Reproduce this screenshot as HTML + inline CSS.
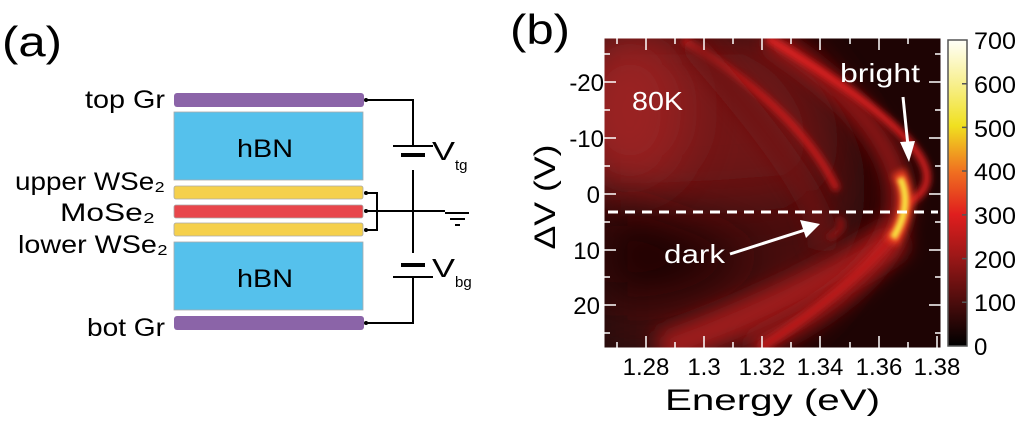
<!DOCTYPE html>
<html><head><meta charset="utf-8"><style>
html,body{margin:0;padding:0;background:#fff;}
body{width:1017px;height:419px;overflow:hidden;font-family:"Liberation Sans",Arial,sans-serif;}
</style></head><body>
<svg width="1017" height="419" viewBox="0 0 1017 419" xmlns="http://www.w3.org/2000/svg" font-family="Liberation Sans, Arial, sans-serif">
<defs>
<filter id="b10" filterUnits="userSpaceOnUse" x="500" y="0" width="517" height="419"><feGaussianBlur stdDeviation="10"/></filter>
<filter id="b4" filterUnits="userSpaceOnUse" x="500" y="0" width="517" height="419"><feGaussianBlur stdDeviation="3.5"/></filter>
<filter id="b2" filterUnits="userSpaceOnUse" x="500" y="0" width="517" height="419"><feGaussianBlur stdDeviation="2"/></filter>
<filter id="b25" filterUnits="userSpaceOnUse" x="500" y="0" width="517" height="419"><feGaussianBlur stdDeviation="25"/></filter>
<clipPath id="pc"><rect x="604" y="38" width="337" height="310"/></clipPath>
<linearGradient id="cb" x1="0" y1="1" x2="0" y2="0">
<stop offset="0" stop-color="#000"/><stop offset="0.14" stop-color="#4a0c0c"/><stop offset="0.3" stop-color="#a01818"/><stop offset="0.43" stop-color="#e01e1e"/><stop offset="0.57" stop-color="#f07020"/><stop offset="0.72" stop-color="#f0e020"/><stop offset="0.86" stop-color="#f8f090"/><stop offset="1" stop-color="#fffff8"/>
</linearGradient>
</defs>
<!-- panel a -->
<text x="2" y="56" font-size="42" textLength="60" lengthAdjust="spacingAndGlyphs">(a)</text>
<g font-size="25">
<text x="85" y="108" textLength="80" lengthAdjust="spacingAndGlyphs">top Gr</text>
<text x="15" y="190" textLength="150" lengthAdjust="spacingAndGlyphs">upper WSe₂</text>
<text x="60" y="221" textLength="95" lengthAdjust="spacingAndGlyphs">MoSe₂</text>
<text x="18" y="253" textLength="150" lengthAdjust="spacingAndGlyphs">lower WSe₂</text>
<text x="87" y="336" textLength="78" lengthAdjust="spacingAndGlyphs">bot Gr</text>
</g>
<rect x="174" y="93" width="190" height="14" rx="3" fill="#8b64a8"/>
<rect x="174" y="112" width="189" height="68" fill="#55c1ec" stroke="#aaa" stroke-width="0.8"/>
<rect x="174" y="186" width="189" height="13" rx="2" fill="#f5d04c" stroke="#aaa" stroke-width="0.8"/>
<rect x="174" y="205" width="189" height="13" rx="2" fill="#e8464b" stroke="#aaa" stroke-width="0.8"/>
<rect x="174" y="223" width="189" height="13" rx="2" fill="#f5d04c" stroke="#aaa" stroke-width="0.8"/>
<rect x="174" y="242" width="189" height="68" fill="#55c1ec" stroke="#aaa" stroke-width="0.8"/>
<rect x="174" y="316" width="190" height="14" rx="3" fill="#8b64a8"/>
<text x="237" y="157" font-size="25" textLength="56" lengthAdjust="spacingAndGlyphs">hBN</text>
<text x="237" y="287" font-size="25" textLength="56" lengthAdjust="spacingAndGlyphs">hBN</text>
<g stroke="#000" stroke-width="2" fill="none">
<path d="M366 100H413V146M413 170V253M413 277V323H366"/>
<path d="M366 193H377V230H366M366 211H445"/>
<path d="M393 146H433M445 213H469M450 219H465M455 225H460M393 277H433"/>
</g>
<rect x="401" y="153" width="24" height="4" fill="#000"/>
<rect x="401" y="263" width="24" height="4" fill="#000"/>
<g fill="#000"><circle cx="366" cy="100" r="2"/><circle cx="366" cy="193" r="2"/><circle cx="366" cy="211" r="2"/><circle cx="366" cy="230" r="2"/><circle cx="366" cy="323" r="2"/></g>
<text x="432" y="160" font-size="26" textLength="23" lengthAdjust="spacingAndGlyphs">V</text><text x="455" y="170" font-size="15">tg</text>
<text x="432" y="277" font-size="26" textLength="23" lengthAdjust="spacingAndGlyphs">V</text><text x="455" y="287" font-size="15">bg</text>
<!-- panel b -->
<text x="510" y="44" font-size="42" textLength="60" lengthAdjust="spacingAndGlyphs">(b)</text>
<g clip-path="url(#pc)">
<rect x="604" y="38" width="337" height="310" fill="#1e0404"/>
<path d="M604 38 H780 Q960 200 760 348 H604 Z" fill="#4a0d0d" filter="url(#b25)"/>
<path d="M604 38 H760 Q860 130 800 190 Q700 200 604 200 Z" fill="#701818" filter="url(#b25)"/>
<ellipse cx="630" cy="110" rx="60" ry="80" fill="#9a2222" filter="url(#b25)"/>
<path d="M604 200 Q700 240 760 250 Q700 300 604 300 Z" fill="#1e0404" filter="url(#b25)"/>
<path d="M900 235 Q800 300 660 350" stroke="#a01c1c" stroke-width="34" fill="none" filter="url(#b10)"/>
<path d="M767 38 Q1040 214 750 348" stroke="#b01a1a" stroke-width="18" fill="none" filter="url(#b10)"/>
<path d="M767 38 Q990 170 902 205" stroke="#e82222" stroke-width="7" fill="none" filter="url(#b4)"/>
<path d="M898 230 Q850 290 760 348" stroke="#c01c1c" stroke-width="8" fill="none" filter="url(#b4)"/>
<path d="M683 40 Q800 110 837 190" stroke="#d01e1e" stroke-width="7" fill="none" filter="url(#b4)"/>
<path d="M690 42 Q840 210 820 250" stroke="#701212" stroke-width="16" fill="none" filter="url(#b10)"/>
<path d="M898 172 Q916 205 891 242" stroke="#f04020" stroke-width="14" fill="none" filter="url(#b4)"/>
<path d="M900 178 Q913 205 893 238" stroke="#f8e040" stroke-width="7" fill="none" filter="url(#b2)"/>
<path d="M838 218 Q848 228 828 238" stroke="#8a1818" stroke-width="7" fill="none" filter="url(#b4)"/>
</g>
<rect x="604" y="38" width="337" height="310" fill="none" stroke="#fff" stroke-width="1"/>
<g stroke="#fff" stroke-width="1.5">
<path d="M604 82h12M604 138h12M604 194h12M604 250h12M604 305h12M941 82h-12M941 138h-12M941 194h-12M941 250h-12M941 305h-12"/>
<path d="M604 54h6M604 110h6M604 166h6M604 222h6M604 277h6M604 333h6M941 54h-6M941 110h-6M941 166h-6M941 222h-6M941 277h-6M941 333h-6"/>
<path d="M646 348v-12M704 348v-12M762 348v-12M820 348v-12M879 348v-12M937 348v-12M646 38v12M704 38v12M762 38v12M820 38v12M879 38v12"/>
<path d="M617 348v-6M675 348v-6M733 348v-6M791 348v-6M850 348v-6M908 348v-6M617 38v6M675 38v6M733 38v6M791 38v6M850 38v6M908 38v6"/>
</g>
<line x1="608" y1="212" x2="938" y2="212" stroke="#fff" stroke-width="3" stroke-dasharray="10,7"/>
<g font-size="26" fill="#fff">
<text x="632" y="110" textLength="51" lengthAdjust="spacingAndGlyphs">80K</text>
<text x="664" y="263" textLength="61" lengthAdjust="spacingAndGlyphs">dark</text>
<text x="840" y="82" textLength="80" lengthAdjust="spacingAndGlyphs">bright</text>
</g>
<g stroke="#fff" stroke-width="3"><line x1="730" y1="254" x2="805" y2="230"/><line x1="903" y1="97" x2="908" y2="146"/></g>
<polygon points="820,224 800,220 806,238" fill="#fff"/>
<polygon points="909,162 900,142 915,141" fill="#fff"/>
<g font-size="24" text-anchor="end">
<text x="604" y="91">-20</text><text x="604" y="147">-10</text><text x="600" y="203">0</text><text x="600" y="259">10</text><text x="600" y="314">20</text>
</g>
<text transform="translate(555,197) rotate(-90)" font-size="30" text-anchor="middle" textLength="105" lengthAdjust="spacingAndGlyphs">ΔV (V)</text>
<g font-size="24" text-anchor="middle">
<text x="646" y="375">1.28</text><text x="704" y="375">1.3</text><text x="762" y="375">1.32</text><text x="820" y="375">1.34</text><text x="879" y="375">1.36</text><text x="937" y="375">1.38</text>
</g>
<text x="665" y="410" font-size="30" textLength="215" lengthAdjust="spacingAndGlyphs">Energy (eV)</text>
<rect x="948" y="40" width="19" height="306" fill="url(#cb)" stroke="#555" stroke-width="1.5"/>
<g stroke="#555" stroke-width="1.5"><path d="M962 83.7h5M962 127.4h5M962 171h5M962 214.9h5M962 258.6h5M962 302.3h5"/></g>
<g font-size="24">
<text x="974" y="49" textLength="42" lengthAdjust="spacingAndGlyphs">700</text><text x="974" y="93" textLength="42" lengthAdjust="spacingAndGlyphs">600</text><text x="974" y="137" textLength="42" lengthAdjust="spacingAndGlyphs">500</text><text x="974" y="180" textLength="42" lengthAdjust="spacingAndGlyphs">400</text><text x="974" y="224" textLength="42" lengthAdjust="spacingAndGlyphs">300</text><text x="974" y="268" textLength="42" lengthAdjust="spacingAndGlyphs">200</text><text x="974" y="311" textLength="42" lengthAdjust="spacingAndGlyphs">100</text><text x="974" y="355">0</text>
</g>
</svg>
</body></html>
